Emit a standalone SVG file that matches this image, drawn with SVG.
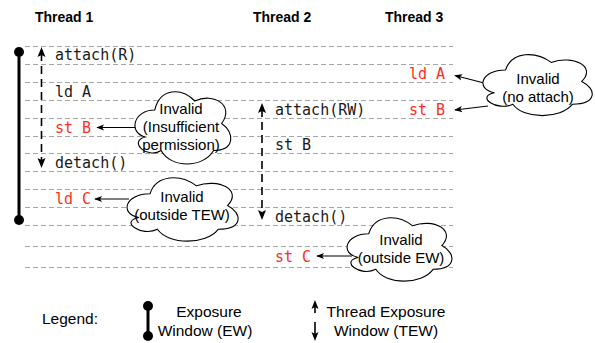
<svg xmlns="http://www.w3.org/2000/svg" width="595" height="343" viewBox="0 0 595 343">
<style>
.grid{stroke:#a8a8a8;stroke-width:1;stroke-dasharray:5 3;fill:none}
.hdr{font-family:"Liberation Sans",Arial,sans-serif;font-weight:bold;font-size:14px;fill:#000}
.code{font-family:"DejaVu Sans Mono",monospace;font-size:15px;fill:#1a1a1a}
.red{fill:#ff2d1e}
.cl{fill:#fff;stroke:#000;stroke-width:1.1}
.ct{font-family:"Liberation Sans",Arial,sans-serif;font-size:15px;fill:#000;text-anchor:middle}
.lg{font-family:"Liberation Sans",Arial,sans-serif;font-size:15.5px;fill:#000;text-anchor:middle}
.tew{stroke:#000;stroke-width:1.6;stroke-dasharray:8 5;fill:none}
.arr{stroke:#000;stroke-width:1.2;fill:none;marker-end:url(#ah)}
</style>
<defs>
<marker id="ah" viewBox="0 0 10 10" refX="9" refY="5" markerWidth="8" markerHeight="8" markerUnits="userSpaceOnUse" orient="auto">
<path d="M0,1 L10,5 L0,9 L2.5,5 Z" fill="#000"/>
</marker>
</defs>

<g id="headers">
<text class="hdr" x="35" y="22">Thread 1</text>
<text class="hdr" x="253" y="22">Thread 2</text>
<text class="hdr" x="385" y="22">Thread 3</text>
</g>

<g id="grid">
<line class="grid" x1="25" y1="46.5" x2="453" y2="46.5"/>
<line class="grid" x1="25" y1="64.5" x2="453" y2="64.5"/>
<line class="grid" x1="25" y1="82.5" x2="453" y2="82.5"/>
<line class="grid" x1="25" y1="100.5" x2="453" y2="100.5"/>
<line class="grid" x1="25" y1="118.5" x2="453" y2="118.5"/>
<line class="grid" x1="25" y1="136.5" x2="453" y2="136.5"/>
<line class="grid" x1="25" y1="153.5" x2="453" y2="153.5"/>
<line class="grid" x1="25" y1="171.5" x2="453" y2="171.5"/>
<line class="grid" x1="25" y1="189.5" x2="453" y2="189.5"/>
<line class="grid" x1="25" y1="207.5" x2="453" y2="207.5"/>
<line class="grid" x1="25" y1="225.5" x2="453" y2="225.5"/>
<line class="grid" x1="25" y1="246.5" x2="453" y2="246.5"/>
<line class="grid" x1="25" y1="267.5" x2="453" y2="267.5"/>
</g>

<g id="ew">
<line x1="19" y1="52" x2="19" y2="220" stroke="#000" stroke-width="3"/>
<circle cx="19" cy="52" r="5" fill="#000"/>
<circle cx="19" cy="220" r="5" fill="#000"/>
</g>

<g id="tew1">
<line class="tew" x1="41.5" y1="53" x2="41.5" y2="160"/>
<path d="M41.5,47 L45.5,57 L41.5,55 L37.5,57 Z" fill="#000"/>
<path d="M41.5,168 L45.5,158 L41.5,160 L37.5,158 Z" fill="#000"/>
</g>
<g id="tew2">
<line class="tew" x1="262" y1="109" x2="262" y2="213"/>
<path d="M262,103 L266,113 L262,111 L258,113 Z" fill="#000"/>
<path d="M262,220 L266,210 L262,212 L258,210 Z" fill="#000"/>
</g>

<g id="ops">
<text class="code" x="55" y="60">attach(R)</text>
<text class="code" x="55" y="96.5">ld A</text>
<text class="code red" x="55" y="132.5">st B</text>
<text class="code" x="55" y="167.5">detach()</text>
<text class="code red" x="55" y="203.5">ld C</text>
<text class="code" x="275" y="114.5">attach(RW)</text>
<text class="code" x="275" y="150">st B</text>
<text class="code" x="275" y="221.5">detach()</text>
<text class="code red" x="275" y="262">st C</text>
<text class="code red" x="445" y="78.5" text-anchor="end">ld A</text>
<text class="code red" x="445" y="114.5" text-anchor="end">st B</text>
</g>

<g id="connectors">
<line class="arr" x1="136" y1="127.5" x2="97" y2="127.5"/>
<line class="arr" x1="129" y1="199" x2="95" y2="199"/>
<line class="arr" x1="484" y1="83" x2="455" y2="75.5"/>
<line class="arr" x1="488" y1="106" x2="455" y2="110"/>
<line class="arr" x1="352" y1="256" x2="317" y2="256"/>
</g>

<g id="cloud-perm">
<path class="cl" vector-effect="non-scaling-stroke" transform="translate(128 87.5) scale(1.07 0.9)" d="M25,25 C5,25 0,50 16,55 C0,60 18,80 31,70 C40,90 70,90 80,70 C100,70 100,50 87.5,40 C100,20 80,5 62.5,15 C50,0 30,0 25,25 Z"/>
<text class="ct" x="181" y="114">Invalid</text>
<text class="ct" x="181" y="132">(Insufficient</text>
<text class="ct" x="181" y="150">permission)</text>
</g>

<g id="cloud-tew">
<path class="cl" vector-effect="non-scaling-stroke" transform="translate(119 174) scale(1.24 0.79)" d="M25,25 C5,25 0,50 16,55 C0,60 18,80 31,70 C40,90 70,90 80,70 C100,70 100,50 87.5,40 C100,20 80,5 62.5,15 C50,0 30,0 25,25 Z"/>
<text class="ct" x="182" y="202">Invalid</text>
<text class="ct" x="182" y="220">(outside TEW)</text>
</g>

<g id="cloud-attach">
<path class="cl" vector-effect="non-scaling-stroke" transform="translate(475 51) scale(1.22 0.76)" d="M25,25 C5,25 0,50 16,55 C0,60 18,80 31,70 C40,90 70,90 80,70 C100,70 100,50 87.5,40 C100,20 80,5 62.5,15 C50,0 30,0 25,25 Z"/>
<text class="ct" x="538" y="84">Invalid</text>
<text class="ct" x="538" y="102">(no attach)</text>
</g>

<g id="cloud-ew">
<path class="cl" vector-effect="non-scaling-stroke" transform="translate(339.5 214) scale(1.17 0.79)" d="M25,25 C5,25 0,50 16,55 C0,60 18,80 31,70 C40,90 70,90 80,70 C100,70 100,50 87.5,40 C100,20 80,5 62.5,15 C50,0 30,0 25,25 Z"/>
<text class="ct" x="401" y="245">Invalid</text>
<text class="ct" x="401" y="263">(outside EW)</text>
</g>

<g id="legend">
<text class="lg" x="70" y="324">Legend:</text>
<line x1="148" y1="306" x2="148" y2="336" stroke="#000" stroke-width="3"/>
<circle cx="148" cy="306" r="5" fill="#000"/>
<circle cx="148" cy="336" r="5" fill="#000"/>
<text class="lg" x="209" y="317">Exposure</text>
<text class="lg" x="205" y="336">Window (EW)</text>
<line x1="315" y1="305" x2="315" y2="313" stroke="#000" stroke-width="1.6"/>
<path d="M315,300 L318.5,309 L315,307 L311.5,309 Z" fill="#000"/>
<line x1="315" y1="322" x2="315" y2="335" stroke="#000" stroke-width="1.6"/>
<path d="M315,341 L318.5,332 L315,334 L311.5,332 Z" fill="#000"/>
<text class="lg" x="386" y="317">Thread Exposure</text>
<text class="lg" x="386" y="336">Window (TEW)</text>
</g>
</svg>
